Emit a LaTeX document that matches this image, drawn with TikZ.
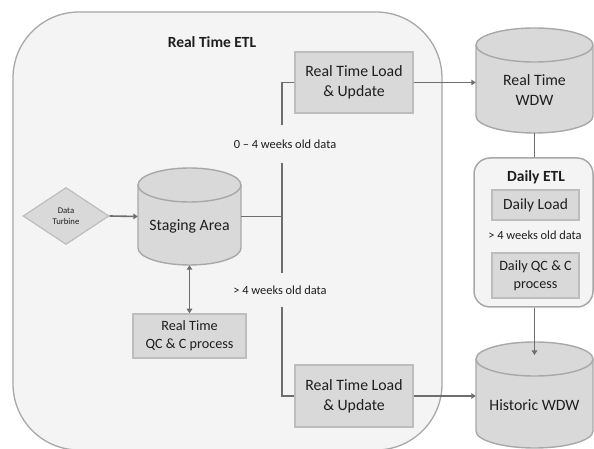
\documentclass[tikz,border=0pt]{standalone}
\usepackage{fontspec}
\setmainfont{Carlito}
\usetikzlibrary{shapes.geometric,arrows.meta}

\definecolor{panelfill}{HTML}{F4F4F4}
\definecolor{panelline}{HTML}{A8A8A8}
\definecolor{boxfill}{HTML}{D9D9D9}
\definecolor{boxline}{HTML}{BDBDBD}
\definecolor{cylfill}{HTML}{D9D9D9}
\definecolor{cylline}{HTML}{A8A8A8}
\definecolor{wire}{HTML}{6E6E6E}
\definecolor{ink}{HTML}{1E1E1E}

\tikzset{
  panel/.style={draw=panelline, line width=1.3pt, fill=panelfill, inner sep=0pt},
  titletext/.style={text=ink, font=\bfseries\fontsize{15.5}{19}\selectfont},
  procbox/.style={draw=boxline, line width=1.5pt, fill=boxfill, text=ink,
    align=center, inner sep=0pt, font=\fontsize{15.8}{20}\selectfont},
  qcbox/.style={procbox, font=\fontsize{14.2}{18}\selectfont},
  wirelabel/.style={text=ink, inner sep=0pt, font=\fontsize{12.4}{15}\selectfont},
  source/.style={diamond, aspect=1.5, draw=boxline, line width=1.2pt, fill=boxfill,
    text=ink, align=center, inner sep=0pt, minimum width=86pt, minimum height=57pt,
    font=\fontsize{8.7}{11}\selectfont},
  cylbody/.style={draw=cylline, line width=1.4pt, fill=cylfill},
  cylrim/.style={draw=cylline, line width=1.4pt},
  cylslot/.style={draw=none, inner sep=0pt},
  cyltext/.style={text=ink, align=center, yshift=-10pt, font=\fontsize{15.8}{20}\selectfont},
  wireline/.style={draw=wire, line width=1.6pt},
  flow/.style={wireline, -{Triangle[length=4.5pt,width=5.5pt]}},
  bothflow/.style={wireline, {Triangle[length=4.5pt,width=5.5pt]}-{Triangle[length=4.5pt,width=5.5pt]}},
}

% database drum: name, centre x, centre y, width, height, caption
\newcommand\dbcyl[6]{%
  \path[cylbody] ({#2-#4/2},{#3+#5/2-17}) -- ({#2-#4/2},{#3-#5/2+17})
    arc[start angle=180,end angle=360,x radius=#4/2,y radius=17]
    -- ({#2+#4/2},{#3+#5/2-17})
    arc[start angle=0,end angle=180,x radius=#4/2,y radius=17] -- cycle;
  \draw[cylrim] ({#2-#4/2},{#3+#5/2-17})
    arc[start angle=180,end angle=360,x radius=#4/2,y radius=17];
  \node[cylslot, minimum width=#4pt, minimum height=#5pt,
    label={[cyltext]center:{#6}}] (#1) at (#2,#3) {};
}

\begin{document}
\begin{tikzpicture}[x=1pt,y=1pt]
\useasboundingbox (0,0) rectangle (594,449);

% real time ETL panel
\node[panel, rounded corners=66pt, minimum width=429pt, minimum height=438pt] (rtetl) at (227.5,218) {};
\node[titletext] (rttitle) at (212,407) {Real Time ETL};

% sources and staging
\node[source] (turbine) at (66,233) {Data\\Turbine};
\dbcyl{stage}{189.5}{232.5}{103}{97}{Staging Area}
\node[qcbox, minimum width=113pt, minimum height=44pt] (rtqc) at (189.5,113) {Real Time\\QC \& C process};

% real time loaders
\node[procbox, minimum width=118pt, minimum height=61pt] (rtl1) at (354,366.5) {Real Time Load\\\& Update};
\node[procbox, minimum width=118pt, minimum height=62pt] (rtl2) at (354,53) {Real Time Load\\\& Update};

% split labels
\node[wirelabel, minimum height=38pt] (newlbl) at (285,305) {0 -- 4 weeks old data};
\node[wirelabel, minimum height=34pt] (oldlbl) at (280,159) {> 4 weeks old data};
\coordinate (split) at (282,232.5);

% warehouses
\dbcyl{rtwdw}{534.5}{368.5}{117}{105}{Real Time\\WDW}
\dbcyl{hist}{534.5}{54}{117}{106}{Historic WDW}
\coordinate (histtop) at (534.5,94);

% daily ETL panel
\node[panel, line width=1.5pt, rounded corners=16pt, minimum width=119pt, minimum height=149pt] (detl) at (533.5,216.5) {};
\node[titletext] (dtitle) at (536,272) {Daily ETL};
\node[procbox, font=\fontsize{15.5}{19}\selectfont, minimum width=87pt, minimum height=30pt] (dload) at (535.5,244) {Daily Load};
\node[wirelabel] (dlbl) at (535,214) {> 4 weeks old data};
\node[qcbox, minimum width=87pt, minimum height=45pt] (dqc) at (535.5,173.5) {Daily QC \& C\\process};

% connectors
\draw[flow] (turbine.east) -- (stage.west);
\draw[bothflow] (stage.south) -- (rtqc.north);
\draw[wireline] (stage.east) -- (split);
\draw[wireline] (rtl1.west) -| (newlbl.north -| split);
\draw[wireline] (newlbl.south -| split) -- (oldlbl.north -| split);
\draw[wireline] (oldlbl.south -| split) |- (rtl2.west);
\draw[flow] (rtl1.east) -- (rtl1.east -| rtwdw.west);
\draw[flow] (rtl2.east) -- (rtl2.east -| hist.west);
\draw[wireline] (rtwdw.south) -- (rtwdw.south |- detl.north);
\draw[flow] (detl.south -| histtop) -- (histtop);
\end{tikzpicture}
\end{document}
